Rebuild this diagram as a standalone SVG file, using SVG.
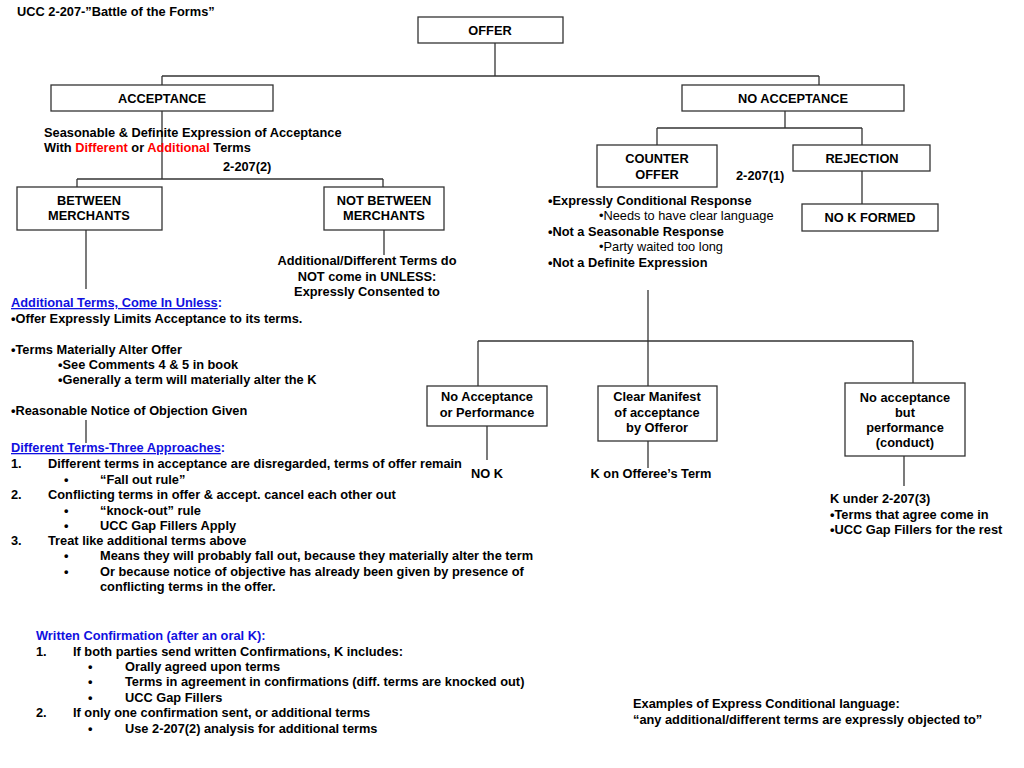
<svg xmlns="http://www.w3.org/2000/svg" width="1024" height="768" viewBox="0 0 1024 768">
<style>
text{font-family:"Liberation Sans",Arial,sans-serif;font-size:12.8px;font-weight:bold;fill:#000}
.n{font-weight:normal}
.c{text-anchor:middle}
.b{fill:#1010e0}
.r{fill:#ff0000}
.u{text-decoration:underline}
rect{fill:#fff;stroke:#333;stroke-width:1.3}
#connectors line{stroke:#333;stroke-width:1.3}
</style>
<rect x="0" y="0" width="1024" height="768" style="stroke:none"/>
<g id="connectors">
<line x1="495" y1="43" x2="495" y2="76"/>
<line x1="162" y1="76" x2="819" y2="76"/>
<line x1="162" y1="76" x2="162" y2="85"/>
<line x1="819" y1="76" x2="819" y2="85"/>
<line x1="162" y1="111" x2="162" y2="179"/>
<line x1="77" y1="179" x2="383" y2="179"/>
<line x1="77" y1="179" x2="77" y2="187"/>
<line x1="383" y1="179" x2="383" y2="187"/>
<line x1="86" y1="230" x2="86" y2="289"/>
<line x1="384" y1="230" x2="384" y2="255"/>
<line x1="86" y1="420" x2="86" y2="443"/>
<line x1="785" y1="111" x2="785" y2="128"/>
<line x1="657" y1="128" x2="862" y2="128"/>
<line x1="657" y1="128" x2="657" y2="145"/>
<line x1="862" y1="128" x2="862" y2="145"/>
<line x1="862" y1="171" x2="862" y2="204"/>
<line x1="648" y1="290" x2="648" y2="386"/>
<line x1="478" y1="341" x2="913" y2="341"/>
<line x1="478" y1="341" x2="478" y2="386"/>
<line x1="913" y1="341" x2="913" y2="383"/>
<line x1="487" y1="426" x2="487" y2="460"/>
<line x1="648" y1="441" x2="648" y2="468"/>
<line x1="904" y1="456" x2="904" y2="486"/>
</g>
<text x="17" y="16">UCC 2-207-”Battle of the Forms”</text>
<g id="offer"><rect x="418" y="17" width="145" height="26"/><text x="490" y="35" class="c">OFFER</text></g>
<g id="acceptance"><rect x="51" y="85" width="222" height="26"/><text x="162" y="103" class="c">ACCEPTANCE</text></g>
<g id="no-acceptance"><rect x="682" y="85" width="222" height="26"/><text x="793" y="103" class="c">NO ACCEPTANCE</text></g>
<g id="acceptance-note">
<text x="44" y="137">Seasonable &amp; Definite Expression of Acceptance</text>
<text x="44" y="152">With <tspan class="r">Different</tspan> or <tspan class="r">Additional</tspan> Terms</text>
<text x="223" y="171">2-207(2)</text>
</g>
<g id="between"><rect x="17" y="187" width="145" height="43"/><text x="89" y="205" class="c">BETWEEN</text><text x="89" y="220" class="c">MERCHANTS</text></g>
<g id="not-between"><rect x="324" y="187" width="120" height="43"/><text x="384" y="205" class="c">NOT BETWEEN</text><text x="384" y="220" class="c">MERCHANTS</text></g>
<g id="not-between-note">
<text x="367" y="265" class="c">Additional/Different Terms do</text>
<text x="367" y="281" class="c">NOT come in UNLESS:</text>
<text x="367" y="296" class="c">Expressly Consented to</text>
</g>
<g id="additional-terms">
<text x="11" y="307" class="b"><tspan class="u">Additional Terms, Come In Unless</tspan>:</text>
<text x="11" y="323">•Offer Expressly Limits Acceptance to its terms.</text>
<text x="11" y="354">•Terms Materially Alter Offer</text>
<text x="58" y="369">•See Comments 4 &amp; 5 in book</text>
<text x="58" y="384">•Generally a term will materially alter the K</text>
<text x="11" y="415">•Reasonable Notice of Objection Given</text>
</g>
<g id="different-terms">
<text x="11" y="452" class="b"><tspan class="u">Different Terms-Three Approaches</tspan>:</text>
<text x="11" y="468">1.</text><text x="48" y="468">Different terms in acceptance are disregarded, terms of offer remain</text>
<text x="64" y="484">•</text><text x="100" y="484">“Fall out rule”</text>
<text x="11" y="499">2.</text><text x="48" y="499">Conflicting terms in offer &amp; accept. cancel each other out</text>
<text x="64" y="515">•</text><text x="100" y="515">“knock-out” rule</text>
<text x="64" y="530">•</text><text x="100" y="530">UCC Gap Fillers Apply</text>
<text x="11" y="545">3.</text><text x="48" y="545">Treat like additional terms above</text>
<text x="64" y="560">•</text><text x="100" y="560">Means they will probably fall out, because they materially alter the term</text>
<text x="64" y="576">•</text><text x="100" y="576">Or because notice of objective has already been given by presence of</text>
<text x="100" y="591">conflicting terms in the offer.</text>
</g>
<g id="written-confirmation">
<text x="36" y="640" class="b">Written Confirmation (after an oral K):</text>
<text x="36" y="656">1.</text><text x="73" y="656">If both parties send written Confirmations, K includes:</text>
<text x="88" y="671">•</text><text x="125" y="671">Orally agreed upon terms</text>
<text x="88" y="686">•</text><text x="125" y="686">Terms in agreement in confirmations (diff. terms are knocked out)</text>
<text x="88" y="702">•</text><text x="125" y="702">UCC Gap Fillers</text>
<text x="36" y="717">2.</text><text x="73" y="717">If only one confirmation sent, or additional terms</text>
<text x="88" y="733">•</text><text x="125" y="733">Use 2-207(2) analysis for additional terms</text>
</g>
<g id="counter-offer"><rect x="597" y="145" width="120" height="42"/><text x="657" y="163" class="c">COUNTER</text><text x="657" y="179" class="c">OFFER</text></g>
<text x="736" y="180">2-207(1)</text>
<g id="rejection"><rect x="793" y="145" width="137" height="26"/><text x="862" y="163" class="c">REJECTION</text></g>
<g id="no-k-formed"><rect x="802" y="204" width="136" height="27"/><text x="870" y="222" class="c">NO K FORMED</text></g>
<g id="counter-offer-note">
<text x="548" y="205">•Expressly Conditional Response</text>
<text x="599" y="220" class="n">•Needs to have clear language</text>
<text x="548" y="236">•Not a Seasonable Response</text>
<text x="599" y="251" class="n">•Party waited too long</text>
<text x="548" y="267">•Not a Definite Expression</text>
</g>
<g id="no-acc-perf"><rect x="427" y="386" width="120" height="40"/><text x="487" y="401" class="c">No Acceptance</text><text x="487" y="417" class="c">or Performance</text></g>
<g id="clear-manifest"><rect x="598" y="386" width="119" height="55"/><text x="657" y="401" class="c">Clear Manifest</text><text x="657" y="417" class="c">of acceptance</text><text x="657" y="432" class="c">by Offeror</text></g>
<g id="no-acc-but-perf"><rect x="845" y="383" width="120" height="73"/><text x="905" y="402" class="c">No acceptance</text><text x="905" y="417" class="c">but</text><text x="905" y="432" class="c">performance</text><text x="905" y="447" class="c">(conduct)</text></g>
<text x="487" y="478" class="c">NO K</text>
<text x="651" y="478" class="c">K on Offeree’s Term</text>
<g id="k-under-3">
<text x="830" y="503">K under 2-207(3)</text>
<text x="830" y="519">•Terms that agree come in</text>
<text x="830" y="534">•UCC Gap Fillers for the rest</text>
</g>
<g id="examples">
<text x="633" y="708">Examples of Express Conditional language:</text>
<text x="633" y="724">“any additional/different terms are expressly objected to”</text>
</g>
</svg>
